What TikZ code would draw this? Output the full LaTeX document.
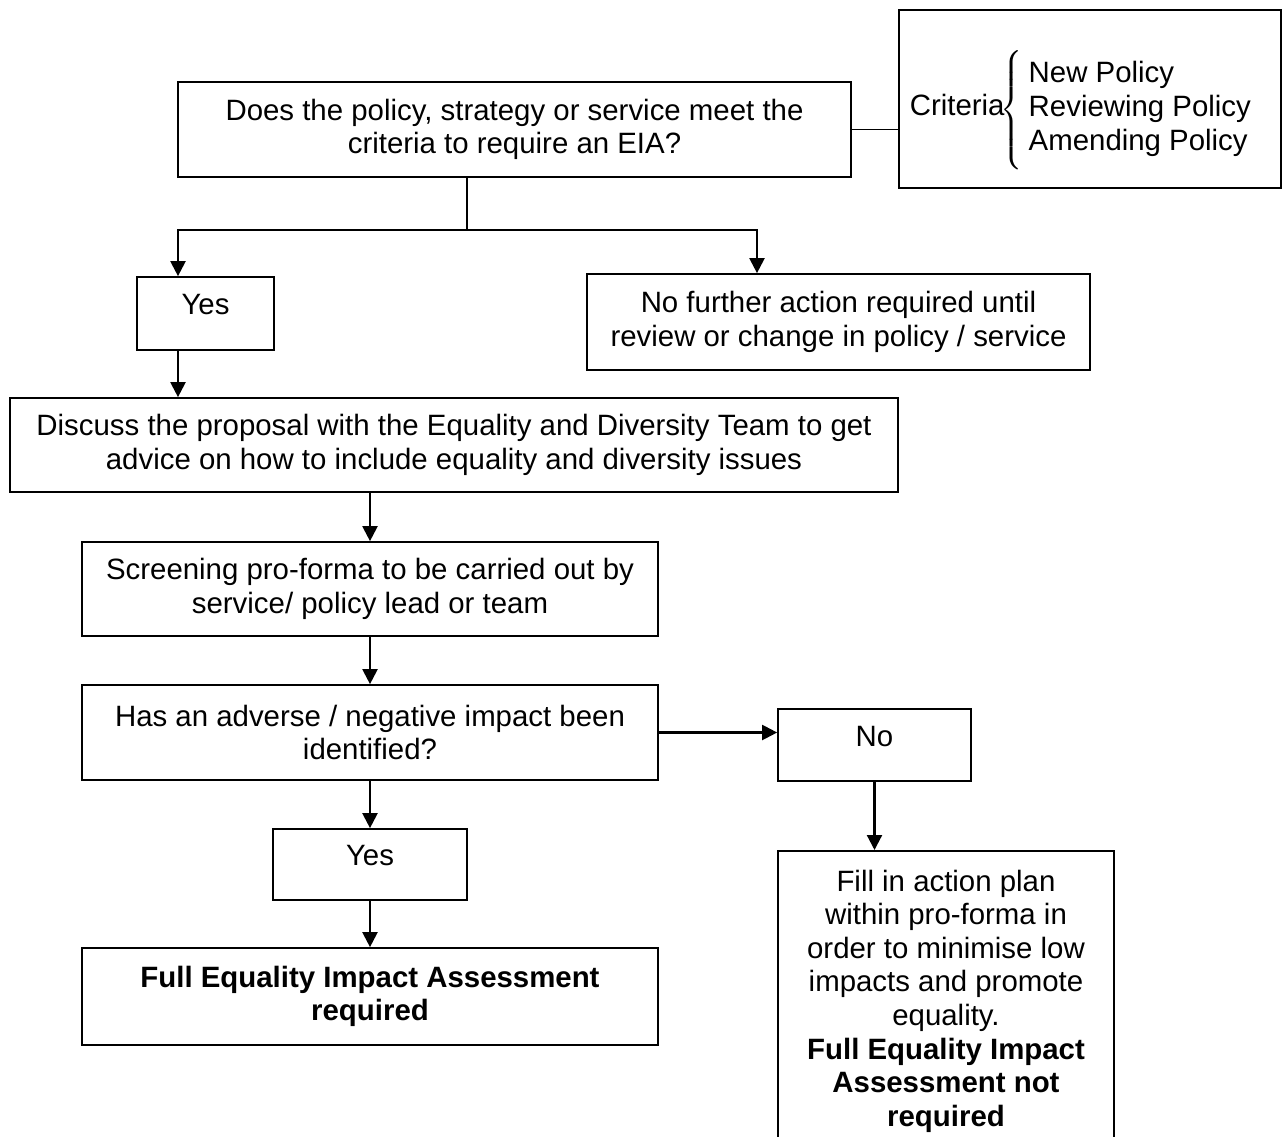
\documentclass[tikz,border=0pt]{standalone}
\usepackage{fontspec}
\setmainfont{Liberation Sans}
\usepackage{amsmath}
\usetikzlibrary{arrows.meta}

\begin{document}
\begin{tikzpicture}[x=1pt, y=-1pt,
    box/.style={draw, line width=1.7pt, align=center, inner sep=0pt, font=\fontsize{29.4}{33.6}\selectfont},
    onebox/.style={box, text height=20pt, text depth=18pt},
    arr/.style={-{Triangle[length=15pt,width=15pt]}, line width=2.2pt},
    lin/.style={line width=1.6pt}]
        \useasboundingbox (0,0) rectangle (1286,1137);
        \node[box, minimum width=673pt, minimum height=95pt] (question) at (514.5,129.5) {Does the policy, strategy or service meet the\\criteria to require an EIA?};
        \node[box, minimum width=382pt, minimum height=178pt, text height=80pt, text depth=46pt] (crit) at (1090,99) {Criteria\hspace{-4pt}$\left\{\rule[-55pt]{0pt}{110pt}\begin{tabular}{@{\hspace{6pt}}l@{}}New Policy\\Reviewing Policy\\Amending Policy\end{tabular}\right.$\hspace*{18pt}};
        \node[onebox, minimum width=137pt, minimum height=73pt] (yes1) at (205.5,313.5) {Yes};
        \node[box, minimum width=503pt, minimum height=96pt] (nofurther) at (838.5,322) {No further action required until\\review or change in policy / service};
        \node[box, minimum width=888pt, minimum height=94pt] (discuss) at (454,445) {Discuss the proposal with the Equality and Diversity Team to get\\advice on how to include equality and diversity issues};
        \node[box, minimum width=576pt, minimum height=94pt] (screen) at (370,589) {Screening pro-forma to be carried out by\\service/ policy lead or team};
        \node[box, minimum width=576pt, minimum height=95pt] (adverse) at (370,732.5) {Has an adverse / negative impact been\\identified?};
        \node[onebox, minimum width=193pt, minimum height=72pt] (no2) at (874.5,745) {No};
        \node[onebox, minimum width=194pt, minimum height=71pt] (yes2) at (370,864.5) {Yes};
        \node[box, minimum width=576pt, minimum height=97pt] (fulleia) at (370,996.5) {\textbf{Full Equality Impact Assessment}\\\textbf{required}};
        \node[box, anchor=north, minimum width=336pt, inner ysep=19pt] (fillin) at (946,850) {Fill in action plan\\within pro-forma in\\order to minimise low\\impacts and promote\\equality.\\\textbf{Full Equality Impact}\\\textbf{Assessment not}\\\textbf{required}};
        \coordinate (split) at (467,230);
        \draw[lin] (question.east) -- (question.east -| crit.west);
        \draw[lin] (question.south -| split) -- (split);
        \draw[arr] (split) -| ([xshift=-27.5pt]yes1.north);
        \draw[arr] (split) -| ([xshift=-81.5pt]nofurther.north);
        \draw[arr] ([xshift=-27.5pt]yes1.south) -- ([xshift=-27.5pt]yes1.south |- discuss.north);
        \draw[arr] (screen.north |- discuss.south) -- (screen.north);
        \draw[arr] (screen) -- (adverse);
        \draw[arr] (adverse.east) -- (adverse.east -| no2.west);
        \draw[arr] (adverse) -- (yes2);
        \draw[arr] (yes2) -- (fulleia);
        \draw[arr] (no2.south) -- (no2.south |- fillin.north);
      \end{tikzpicture}
\end{document}
